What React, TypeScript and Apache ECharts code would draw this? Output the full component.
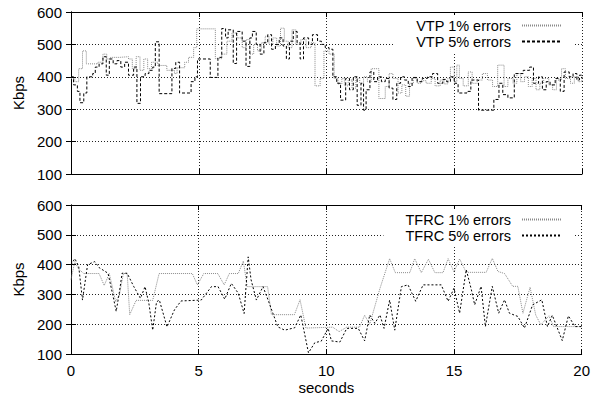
import React, { useEffect, useRef } from "react";
import * as echarts from "echarts";

const xTicks = [0, 5, 10, 15, 20];
const yTicks = [100, 200, 300, 400, 500, 600];

const vtpNames = ["VTP 1% errors", "VTP 5% errors"];
const tfrcNames = ["TFRC 1% errors", "TFRC 5% errors"];

// VTP 1% errors: [seconds, Kbps] (step)
const vtp1: [number, number][] = [
  [0.0, 395], [0.15, 385], [0.3, 425], [0.45, 480], [0.6, 440], [1.05, 445], [1.25, 470], [1.4, 455],
  [1.55, 460], [1.9, 462], [2.25, 455], [2.4, 425], [2.55, 462], [2.7, 420], [2.85, 455], [3.0, 425],
  [3.15, 445], [3.4, 435], [3.75, 420], [4.05, 410], [4.15, 428], [4.45, 445], [4.6, 460], [4.8, 490],
  [4.92, 548], [5.65, 456], [5.9, 470], [6.1, 510], [6.3, 535], [6.5, 520], [6.7, 490], [6.85, 515],
  [7.0, 470], [7.15, 500], [7.3, 480], [7.45, 505], [7.6, 525], [7.75, 500], [7.9, 520], [8.05, 495],
  [8.2, 550], [8.35, 510], [8.5, 490], [8.65, 545], [8.8, 500], [9.0, 515], [9.2, 490], [9.4, 505],
  [9.55, 372], [9.75, 395], [9.9, 480], [10.1, 470], [10.3, 395], [10.45, 378], [10.6, 395], [10.7, 372],
  [10.85, 390], [11.0, 365], [11.15, 395], [11.3, 380], [11.45, 400], [11.6, 385], [11.75, 425], [12.05, 333],
  [12.3, 370], [12.45, 410], [12.6, 395], [12.8, 350], [12.95, 375], [13.1, 340], [13.25, 380], [13.4, 395],
  [13.55, 380], [13.7, 388], [13.9, 380], [14.1, 395], [14.25, 372], [14.45, 390], [14.6, 378], [14.75, 395],
  [14.85, 430], [15.0, 385], [15.1, 436], [15.2, 395], [15.35, 372], [15.55, 415], [15.7, 380], [15.9, 390],
  [16.1, 410], [16.3, 390], [16.5, 370], [16.7, 436], [16.95, 370], [17.1, 395], [17.3, 380], [17.45, 410],
  [17.6, 385], [17.75, 400], [17.9, 370], [18.05, 395], [18.2, 360], [18.35, 380], [18.5, 395], [18.7, 375],
  [18.85, 360], [19.0, 390], [19.2, 425], [19.35, 395], [19.55, 380], [19.7, 400], [19.85, 385], [20.0, 395],
];

// VTP 5% errors: [seconds, Kbps] (step)
const vtp5: [number, number][] = [
  [0.0, 400], [0.1, 375], [0.25, 355], [0.35, 320], [0.5, 350], [0.62, 400], [0.85, 410], [0.95, 430],
  [1.1, 440], [1.25, 462], [1.38, 405], [1.5, 455], [1.65, 440], [1.8, 450], [1.95, 430], [2.1, 445],
  [2.25, 405], [2.45, 430], [2.58, 318], [2.72, 400], [2.9, 410], [3.05, 420], [3.2, 430], [3.3, 508],
  [3.45, 348], [3.95, 426], [4.1, 445], [4.25, 350], [4.7, 385], [4.85, 400], [4.95, 455], [5.45, 398],
  [5.75, 460], [5.9, 549], [6.05, 520], [6.15, 545], [6.35, 441], [6.48, 540], [6.7, 510], [6.85, 432],
  [7.0, 520], [7.1, 540], [7.25, 500], [7.4, 470], [7.55, 505], [7.7, 530], [7.85, 485], [8.0, 500],
  [8.15, 520], [8.3, 495], [8.43, 455], [8.55, 510], [8.7, 540], [8.85, 505], [8.97, 455], [9.1, 520],
  [9.3, 500], [9.45, 530], [9.65, 510], [9.8, 500], [9.95, 490], [10.1, 485], [10.25, 400], [10.4, 380],
  [10.55, 328], [10.75, 395], [10.9, 360], [11.05, 400], [11.2, 312], [11.35, 380], [11.45, 297], [11.55, 360],
  [11.7, 415], [11.85, 385], [12.0, 400], [12.15, 385], [12.3, 395], [12.45, 365], [12.6, 330], [12.75, 380],
  [12.9, 400], [13.05, 390], [13.2, 370], [13.35, 398], [13.55, 385], [13.75, 395], [13.95, 400], [14.15, 410],
  [14.35, 380], [14.55, 392], [14.7, 385], [14.85, 400], [15.0, 380], [15.15, 350], [15.5, 355], [15.65, 390],
  [15.95, 297], [16.55, 330], [16.75, 380], [16.9, 345], [17.1, 335], [17.35, 410], [17.7, 420], [17.95, 430],
  [18.1, 380], [18.3, 400], [18.45, 360], [18.6, 385], [18.75, 375], [18.95, 395], [19.15, 355], [19.3, 415],
  [19.5, 400], [19.65, 410], [19.8, 390], [19.9, 405], [20.0, 395],
];

// TFRC 1% errors: [seconds, Kbps]
const tfrc1: [number, number][] = [
  [0, 350], [0.15, 410], [0.3, 385], [0.5, 370], [1.1, 370], [1.3, 330], [1.5, 370], [1.75, 275],
  [1.9, 300], [2.05, 370], [2.2, 370], [2.3, 232], [2.55, 280], [3.2, 280], [3.45, 370], [4.75, 370],
  [4.95, 332], [5.2, 370], [5.75, 370], [6.0, 332], [6.2, 370], [6.55, 370], [6.75, 412], [6.9, 326],
  [7.7, 326], [7.85, 232], [8.75, 232], [8.97, 282], [9.2, 187], [10.25, 190], [10.5, 175], [10.8, 190],
  [11.3, 190], [11.5, 230], [11.7, 200], [11.9, 260], [12.1, 320], [12.48, 420], [12.7, 373], [13.27, 373],
  [13.46, 420], [13.72, 373], [14.0, 418], [14.25, 373], [14.57, 373], [14.77, 420], [15.0, 375], [15.22, 419],
  [15.48, 374], [16.26, 374], [16.5, 421], [16.72, 377], [16.98, 370], [17.3, 327], [17.5, 327], [17.7, 237],
  [17.98, 324], [18.2, 231], [18.4, 198], [18.72, 228], [18.9, 192], [20, 192],
];

// TFRC 5% errors: [seconds, Kbps]
const tfrc5: [number, number][] = [
  [0, 400], [0.15, 420], [0.3, 395], [0.45, 281], [0.65, 400], [0.93, 410], [1.1, 390], [1.45, 371],
  [1.65, 293], [1.77, 243], [1.9, 310], [2.0, 371], [2.2, 371], [2.46, 326], [2.72, 287], [2.9, 326],
  [3.05, 270], [3.2, 180], [3.35, 275], [3.46, 281], [3.76, 191], [4.05, 248], [4.31, 278], [5.1, 281],
  [5.5, 326], [5.76, 326], [6.02, 284], [6.28, 337], [6.55, 304], [6.78, 236], [6.94, 426], [7.05, 350],
  [7.26, 281], [7.52, 326], [7.72, 281], [8.1, 191], [8.37, 180], [8.76, 188], [9.0, 231], [9.3, 104],
  [9.55, 138], [9.8, 143], [10.07, 186], [10.2, 144], [10.53, 140], [10.8, 186], [11.25, 186], [11.5, 144],
  [11.7, 231], [11.9, 203], [12.1, 231], [12.26, 186], [12.48, 281], [12.68, 180], [12.94, 326], [13.2, 332],
  [13.5, 277], [13.79, 332], [14.5, 332], [14.77, 277], [15.0, 321], [15.22, 237], [15.48, 383], [15.68, 316],
  [15.81, 265], [16.06, 327], [16.23, 192], [16.5, 327], [16.75, 237], [16.98, 282], [17.17, 237], [17.5, 226],
  [17.76, 187], [18.08, 265], [18.44, 282], [18.66, 192], [18.85, 230], [19.24, 145], [19.48, 228], [19.74, 192],
  [20, 192],
];

const FONT = "'Liberation Sans', Arial, Helvetica, sans-serif";

export default function App() {
  const ref = useRef<HTMLDivElement>(null);
  useEffect(() => {
    if (!ref.current) return;
    const chart = echarts.init(ref.current, null, { renderer: "svg" });
    const grids = [
      { left: 71, right: 11, top: 12, height: 162 },
      { left: 71, right: 11, top: 205, height: 149 },
    ];
    const gridLine = { show: true, lineStyle: { color: "#222", type: [1, 2], width: 1 } };
    const xAxis: any[] = [];
    const yAxis: any[] = [];
    [0, 1].forEach((g) => {
      xAxis.push({
        type: "value", gridIndex: g, min: xTicks[0], max: xTicks[xTicks.length - 1], interval: 5,
        axisLine: { show: true, lineStyle: { color: "#000", width: 1 } },
        axisTick: { show: true, inside: true, length: 5, lineStyle: { color: "#000" } },
        axisLabel: { show: g === 1, color: "#000", fontSize: 15, fontFamily: FONT, margin: 9 },
        splitLine: gridLine,
        name: g === 1 ? "seconds" : "",
        nameLocation: "middle", nameGap: 26,
        nameTextStyle: { color: "#000", fontSize: 15, fontFamily: FONT },
      });
      yAxis.push({
        type: "value", gridIndex: g, min: yTicks[0], max: yTicks[yTicks.length - 1], interval: 100,
        axisLine: { show: true, lineStyle: { color: "#000", width: 1 } },
        axisTick: { show: true, inside: true, length: 5, lineStyle: { color: "#000" } },
        axisLabel: { color: "#000", fontSize: 15, fontFamily: FONT, margin: 9 },
        splitLine: gridLine,
        name: "Kbps", nameLocation: "middle", nameGap: 44, nameRotate: 90,
        nameTextStyle: { color: "#000", fontSize: 15, fontFamily: FONT },
      });
    });
    [0, 1].forEach((g) => {
      xAxis.push({
        type: "value", gridIndex: g, position: "top", min: 0, max: 20, interval: 5,
        axisLine: { show: true, lineStyle: { color: "#000" } },
        axisTick: { show: true, inside: true, length: 5, lineStyle: { color: "#000" } },
        axisLabel: { show: false }, splitLine: { show: false },
      });
      yAxis.push({
        type: "value", gridIndex: g, position: "right", min: 100, max: 600, interval: 100,
        axisLine: { show: true, lineStyle: { color: "#000" } },
        axisTick: { show: true, inside: true, length: 5, lineStyle: { color: "#000" } },
        axisLabel: { show: false }, splitLine: { show: false },
      });
    });
    const legendBase = {
      orient: "vertical", right: 20, align: "right", itemWidth: 40, itemHeight: 14,
      backgroundColor: "#fff", padding: [3, 10, 3, 22],
      itemStyle: { opacity: 0 },
      textStyle: { color: "#000", fontSize: 14.5, fontFamily: FONT, padding: [0, 6, 0, 0] },
      selectedMode: false,
    };
    const grey = "#8a8a8a";
    chart.setOption({
      animation: false,
      backgroundColor: "#fff",
      grid: grids,
      xAxis, yAxis,
      legend: [
        { ...legendBase, top: 15, itemGap: 1, data: vtpNames },
        { ...legendBase, top: 209, itemGap: 1, data: tfrcNames },
      ],
      series: [
        { name: vtpNames[0], type: "line", step: "end", xAxisIndex: 0, yAxisIndex: 0, data: vtp1, symbol: "none",
          lineStyle: { color: grey, width: 1, type: [1, 1] }, itemStyle: { color: grey } },
        { name: vtpNames[1], type: "line", step: "end", xAxisIndex: 0, yAxisIndex: 0, data: vtp5, symbol: "none",
          lineStyle: { color: "#000", width: 1, type: [3, 2] }, itemStyle: { color: "#000" } },
        { name: tfrcNames[0], type: "line", xAxisIndex: 1, yAxisIndex: 1, data: tfrc1, symbol: "none",
          lineStyle: { color: grey, width: 1, type: [1, 1] }, itemStyle: { color: grey } },
        { name: tfrcNames[1], type: "line", xAxisIndex: 1, yAxisIndex: 1, data: tfrc5, symbol: "none",
          lineStyle: { color: "#000", width: 1, type: [2, 2] }, itemStyle: { color: "#000" } },
      ],
    });
    return () => chart.dispose();
  }, []);
  return <div ref={ref} style={{ width: 593, height: 398, position: "absolute", left: 0, top: 0 }} />;
}
